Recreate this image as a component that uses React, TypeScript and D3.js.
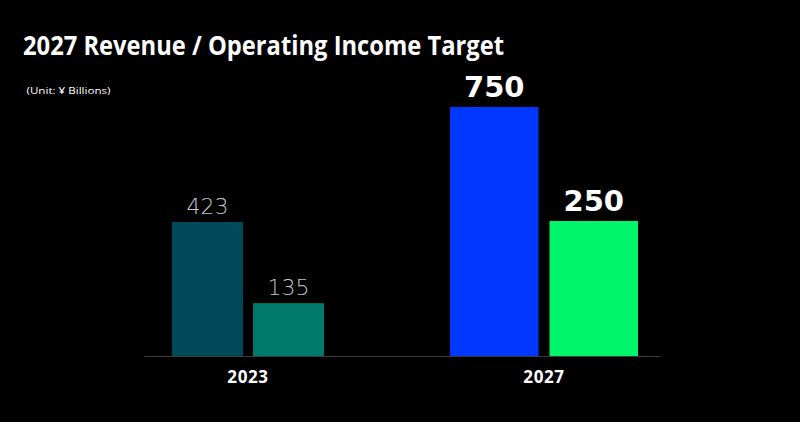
import React from "react";
import * as d3 from "d3";

const years = ["2023", "2027"];
const revenue = [423, 750];
const operatingIncome = [135, 250];
const highlighted = ["2027"];

const W = 800;
const H = 422;

export default function App() {
  const baseY = 356;
  const x = d3.scaleBand<string>().domain(years).range([100, 692]).padding(0);
  const yRev = d3.scaleLinear().domain([42, 750]).range([0, 249]);
  const yOp = d3.scaleLinear().domain([61, 250]).range([0, 135]);

  const colors: Record<string, [string, string]> = {
    "2023": ["#00495a", "#007a6b"],
    "2027": ["#0037ff", "#00f56a"],
  };

  return (
    <svg width={W} height={H} style={{ position: "absolute", left: 0, top: 0, background: "#000" }}>
      <rect x={0} y={0} width={W} height={H} fill="#000" />
      <text x={23} y={54.5} fill="#fff" fontFamily="Open Sans" fontWeight={700} fontSize={26}
        textLength={481} lengthAdjust="spacingAndGlyphs">
        2027 Revenue / Operating Income Target
      </text>
      <text x={26.5} y={93.5} fill="#fff" fontFamily="Open Sans" fontSize={9.5}
        textLength={84} lengthAdjust="spacingAndGlyphs">
        (Unit: ¥ Billions)
      </text>
      <line x1={144} x2={660} y1={baseY + 0.5} y2={baseY + 0.5} stroke="#3a3a3a" strokeWidth={1.2} />
      {years.map((yr, i) => {
        const hi = highlighted.includes(yr);
        const bw = hi ? 88.5 : 71;
        const gap = hi ? 11 : 10;
        const cx = (x(yr) as number) + x.bandwidth() / 2;
        const x1 = cx - gap / 2 - bw;
        const x2 = cx + gap / 2;
        const h1 = yRev(revenue[i]);
        const h2 = yOp(operatingIncome[i]);
        const labelStyle = hi
          ? { fill: "#fff", fontFamily: "DejaVu Sans", fontWeight: 700, fontSize: 29 }
          : { fill: "#c4c4c4", fontFamily: "DejaVu Sans", fontWeight: 200, fontSize: 22 };
        const off = hi ? 10.5 : 8.5;
        return (
          <g key={yr}>
            <rect x={x1} y={baseY - h1} width={bw} height={h1} fill={colors[yr][0]} />
            <rect x={x2} y={baseY - h2} width={bw} height={h2} fill={colors[yr][1]} />
            <text x={x1 + bw / 2} y={baseY - h1 - off} textAnchor="middle" {...labelStyle}>
              {revenue[i]}
            </text>
            <text x={x2 + bw / 2} y={baseY - h2 - off} textAnchor="middle" {...labelStyle}>
              {operatingIncome[i]}
            </text>
            <text x={cx} y={382.5} textAnchor="middle" fill="#fff" fontFamily="Open Sans"
              fontWeight={700} fontSize={17} letterSpacing={0.6}>
              {yr}
            </text>
          </g>
        );
      })}
    </svg>
  );
}
